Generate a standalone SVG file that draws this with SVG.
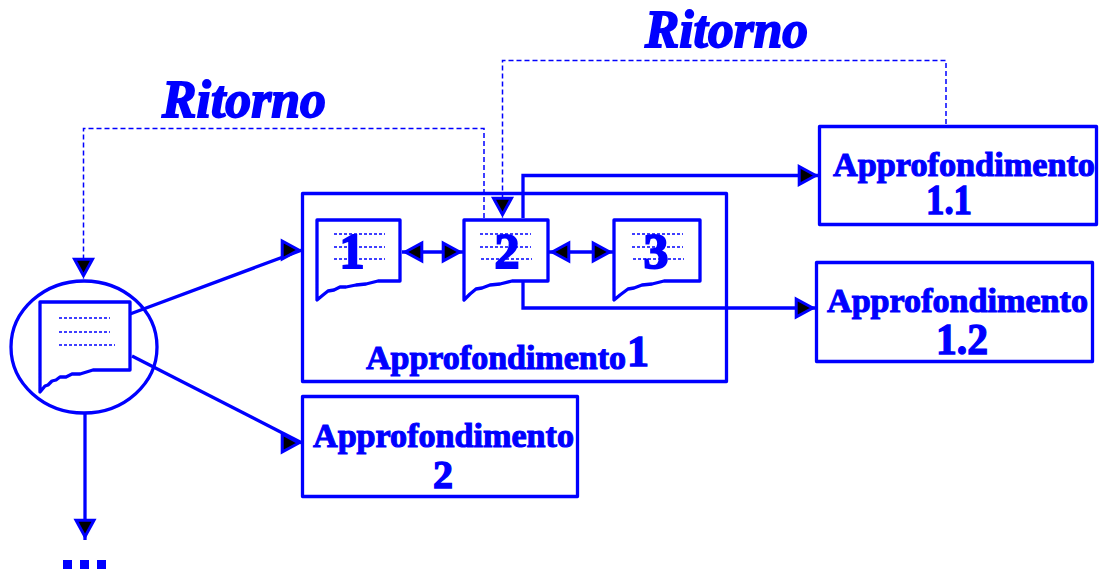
<svg xmlns="http://www.w3.org/2000/svg" width="1101" height="569" viewBox="0 0 1101 569">
<style>
.b{fill:#fff;stroke:#00f;stroke-width:3.300;stroke-linejoin:round}
.d{fill:none;stroke:#00f;stroke-width:1.5;stroke-dasharray:3 2}
.c{fill:none;stroke:#00f;stroke-width:3.300}
.r{fill:none;stroke:#00f;stroke-width:1.5;stroke-dasharray:5 3}
text{font-family:"Liberation Serif","Times New Roman",serif;font-weight:bold;fill:#00f;stroke:#00f;stroke-width:1.100}
.t{font-size:34px}
.n{font-size:44px;stroke-width:1.400}
.m{font-size:42px;stroke-width:1.400}
.s{font-size:40px;stroke-width:1.400}
.g{font-size:50px;stroke-width:2}
.i{font-size:53px;font-style:italic;stroke-width:1.800}
</style>
<defs>
<marker id="ar" markerUnits="userSpaceOnUse" markerWidth="30" markerHeight="30" refX="25.300" refY="15" orient="0" overflow="visible"><path d="M5.500,6 L22,15 L5.500,24Z" fill="#000" stroke="#00f" stroke-width="3" stroke-linejoin="miter"/></marker>
<marker id="al" markerUnits="userSpaceOnUse" markerWidth="30" markerHeight="30" refX="25.300" refY="15" orient="180" overflow="visible"><path d="M5.500,6 L22,15 L5.500,24Z" fill="#000" stroke="#00f" stroke-width="3" stroke-linejoin="miter"/></marker>
<marker id="ad" markerUnits="userSpaceOnUse" markerWidth="30" markerHeight="30" refX="25.300" refY="15" orient="90" overflow="visible"><path d="M5.500,6 L22,15 L5.500,24Z" fill="#000" stroke="#00f" stroke-width="3" stroke-linejoin="miter"/></marker>
</defs>
<rect width="1101" height="569" fill="#fff"/>
<g id="box-approfondimento-1">
<rect class="b" x="302.500" y="193.500" width="424" height="188"/>
<text class="t" x="366" y="369" textLength="260" lengthAdjust="spacingAndGlyphs">Approfondimento</text>
<text class="n" x="627" y="366">1</text>
</g>
<g id="node-main">
<ellipse class="b" cx="84" cy="347" rx="73" ry="66"/>
<path class="b" d="M40,392 V302 H130 V370 H93 L80,374 72,374 66,377 60,377 56,380 52,381 48,385 45,386Z"/>
<path class="d" d="M59,318 H110 M59,332 H110 M59,345 H115"/>
</g>
<g id="doc-1">
<path class="b" d="M317,300 V220 H400 V281 H378 L366,284 356,285 346,287 340,287 334,290 328,291 323,295Z"/>
<path class="d" d="M334,234 H385 M334,247 H385 M334,259 H385"/>
<text class="g" x="352" y="268" text-anchor="middle">1</text>
</g>
<g id="doc-2">
<path class="b" d="M464,300 V220 H548 V281 H512 L500,284 490,285 482,288 476,289 470,294Z"/>
<path class="d" d="M480,234 H531 M480,247 H531 M481,259 H532"/>
<text class="g" x="507" y="268" text-anchor="middle">2</text>
</g>
<g id="doc-3">
<path class="b" d="M614,300 V220 H700 V281 H664 L652,284 642,285 634,288 628,289 620,295Z"/>
<path class="d" d="M632,234 H683 M632,247 H683 M633,259 H684"/>
<text class="g" x="656" y="268" text-anchor="middle">3</text>
</g>
<g id="box-1-1">
<rect class="b" x="819.500" y="126.500" width="277" height="98"/>
<text class="t" x="833" y="176" textLength="262" lengthAdjust="spacingAndGlyphs">Approfondimento</text>
<text class="m" x="926" y="214" textLength="46" lengthAdjust="spacingAndGlyphs">1.1</text>
</g>
<g id="box-1-2">
<rect class="b" x="816.500" y="262.500" width="276" height="99"/>
<text class="t" x="827" y="312" textLength="261" lengthAdjust="spacingAndGlyphs">Approfondimento</text>
<text class="n" x="936" y="354" textLength="52" lengthAdjust="spacingAndGlyphs">1.2</text>
</g>
<g id="box-2">
<rect class="b" x="302.500" y="396.500" width="275" height="100"/>
<text class="t" x="313" y="447" textLength="261" lengthAdjust="spacingAndGlyphs">Approfondimento</text>
<text class="s" x="443" y="488" text-anchor="middle">2</text>
</g>
<g id="connectors">
<path class="c" d="M130,314 L302,250" marker-end="url(#ar)"/>
<path class="c" d="M132,356 L302,443" marker-end="url(#ar)"/>
<path class="c" d="M85,413 V540" marker-end="url(#ad)"/>
<path class="c" d="M402,252 H463" marker-start="url(#al)" marker-end="url(#ar)"/>
<path class="c" d="M549,252 H613" marker-start="url(#al)" marker-end="url(#ar)"/>
<path class="c" d="M523,218 V175.500 H819" marker-end="url(#ar)"/>
<path class="c" d="M523,282 V308 H816" marker-end="url(#ar)"/>
<path class="r" d="M484,218 V128.500 H83.500 V279" marker-end="url(#ad)"/>
<path class="r" d="M946,124 V60.500 H502.500 V218" marker-end="url(#ad)"/>
</g>
<g id="ellipsis" fill="#00f">
<rect x="63" y="560" width="9" height="9"/>
<rect x="80" y="560" width="9" height="9"/>
<rect x="97" y="560" width="9" height="9"/>
</g>
<text class="i" x="162" y="117" textLength="164" lengthAdjust="spacingAndGlyphs">Ritorno</text>
<text class="i" x="645" y="47" textLength="163" lengthAdjust="spacingAndGlyphs">Ritorno</text>
</svg>
